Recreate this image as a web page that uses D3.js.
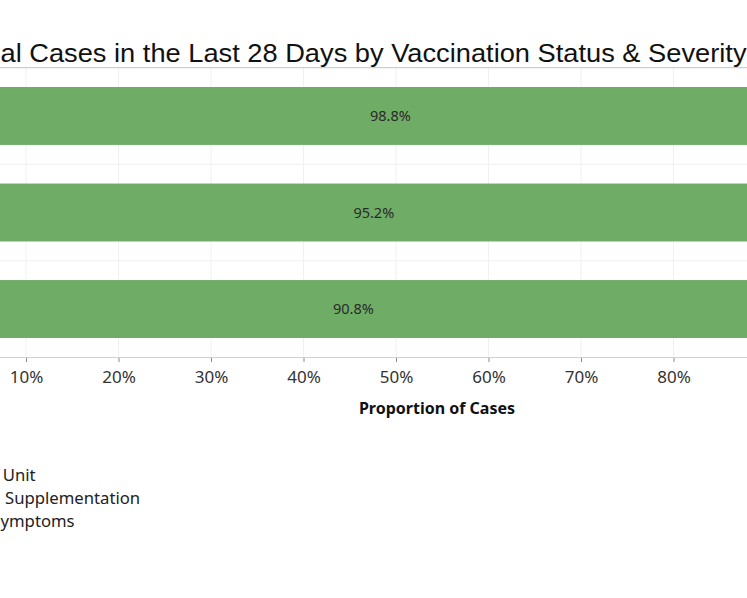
<!DOCTYPE html>
<html>
<head>
<meta charset="utf-8">
<script src="https://cdn.jsdelivr.net/npm/d3@7"></script>
<style>
  html, body { margin: 0; padding: 0; background: #fff; overflow: hidden; }
  svg { display: block; }
</style>
</head>
<body>
<svg id="chart" width="747" height="598"></svg>
<script>
// ---- data (only the part of the chart visible in the reference crop) ----
const titleText = "al Cases in the Last 28 Days by Vaccination Status & Severity";
const categories = ["Row 1", "Row 2", "Row 3"];
const mildShare = [0.988, 0.952, 0.908];
const tickValues = [0.1, 0.2, 0.3, 0.4, 0.5, 0.6, 0.7, 0.8];
const gridValues = [0, 0.1, 0.2, 0.3, 0.4, 0.5, 0.6, 0.7, 0.8, 0.9, 1.0];
const axisTitle = "Proportion of Cases";
const legendLabels = ["Unit", "Supplementation", "ymptoms"];

const svg = d3.select("#chart");
const W = 747;
const barColor = "#6fad66";
const gridColor = "#f0f0f0";

const x = d3.scaleLinear().domain([0, 1]).range([-66.5, 858.5]);
const y = d3.scaleBand().domain(categories).range([67.7, 357.3])
  .paddingInner(0.4).paddingOuter(0.2);

// gridlines (vertical)
svg.append("g").selectAll("line").data(gridValues).join("line")
  .attr("x1", d => x(d)).attr("x2", d => x(d))
  .attr("y1", 68).attr("y2", 357)
  .attr("stroke", gridColor).attr("stroke-width", 1);

// row dividers
const step = y.step();
svg.append("g").selectAll("line").data(categories.slice(1)).join("line")
  .attr("x1", 0).attr("x2", W)
  .attr("y1", d => y(d) - step * y.paddingInner() / 2)
  .attr("y2", d => y(d) - step * y.paddingInner() / 2)
  .attr("stroke", gridColor).attr("stroke-width", 1);

// bars
const rows = categories.map((c, i) => ({ cat: c, v: mildShare[i] }));
svg.append("g").selectAll("rect").data(rows).join("rect")
  .attr("x", x(0)).attr("y", d => y(d.cat))
  .attr("width", d => x(d.v) - x(0))
  .attr("height", y.bandwidth())
  .attr("fill", barColor);

// bar labels
svg.append("g").selectAll("text").data(rows).join("text")
  .attr("x", d => (x(0) + x(d.v)) / 2)
  .attr("y", d => y(d.cat) + y.bandwidth() / 2)
  .attr("dy", "0.35em")
  .attr("text-anchor", "middle")
  .attr("font-family", "Noto Sans, sans-serif")
  .attr("font-size", 14.5)
  .attr("fill", "#2a2a2a")
  .text(d => d3.format(".1%")(d.v));

// x axis
const axisY = 357;
const gx = svg.append("g").attr("transform", `translate(0,${axisY})`)
  .call(d3.axisBottom(x).tickValues(tickValues).tickFormat(d3.format(".0%"))
    .tickSize(5).tickSizeOuter(0).tickPadding(9));
gx.select(".domain").remove();
gx.append("line").attr("x1", 0).attr("x2", W).attr("y1", 0.5).attr("y2", 0.5)
  .attr("stroke", "#d0d0d0");
gx.selectAll(".tick line").attr("stroke", "#888");
gx.selectAll(".tick text")
  .attr("font-family", "Noto Sans, sans-serif")
  .attr("font-size", 17).attr("fill", "#333");

svg.append("text")
  .attr("x", 437).attr("y", 414)
  .attr("text-anchor", "middle")
  .attr("font-family", "Noto Sans, sans-serif")
  .attr("font-weight", "bold")
  .attr("font-size", 16).attr("fill", "#111")
  .text(axisTitle);

// title (visible portion, cropped at the left edge like the reference)
svg.append("text")
  .attr("x", 0.5).attr("y", 61.5)
  .attr("font-family", "Liberation Sans, Arial, sans-serif")
  .attr("font-size", 25).attr("fill", "#111")
  .attr("textLength", 746).attr("lengthAdjust", "spacingAndGlyphs")
  .text(titleText);

svg.append("line").attr("x1", 0).attr("x2", W).attr("y1", 67.7).attr("y2", 67.7)
  .attr("stroke", "#c4c4c4").attr("stroke-width", 1);

// legend (visible portion)
const legendStarts = [2.7, 5, 0.5];
const legendBase = [481, 504, 527];
svg.append("g").selectAll("text").data(legendLabels).join("text")
  .attr("x", (d, i) => legendStarts[i])
  .attr("y", (d, i) => legendBase[i])
  .attr("font-family", "Noto Sans, sans-serif")
  .attr("font-size", 16.7).attr("fill", "#222")
  .text(d => d);
</script>
</body>
</html>
